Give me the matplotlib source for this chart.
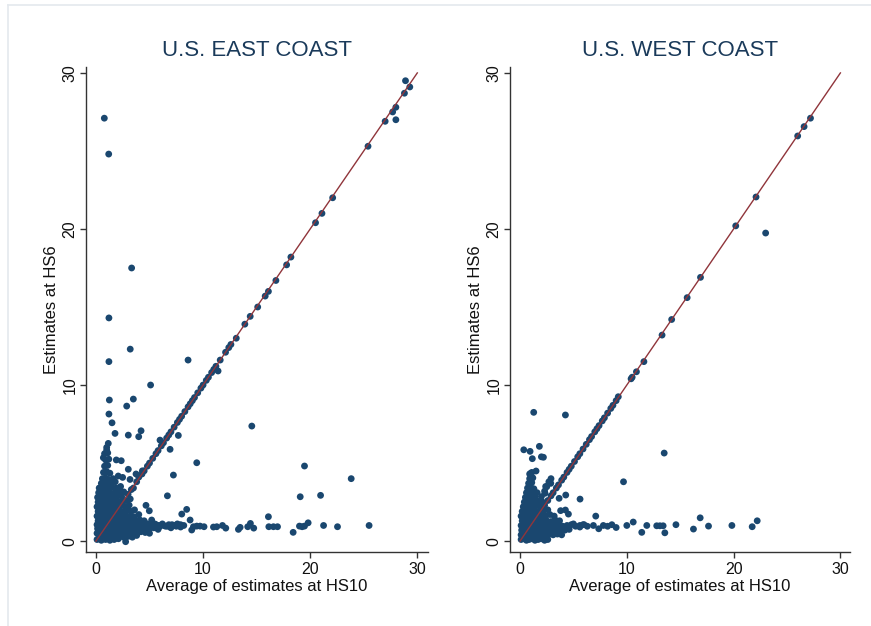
import matplotlib
matplotlib.use("Agg")
import matplotlib.pyplot as plt
from matplotlib.lines import Line2D

plt.rcParams['font.family'] = ['Liberation Sans', 'DejaVu Sans']

NAVY = '#1a476f'
MAROON = '#90353b'

titles = ['U.S. EAST COAST', 'U.S. WEST COAST']
xlabel = 'Average of estimates at HS10'
ylabel = 'Estimates at HS6'
ticks = [0, 10, 20, 30]

# East coast: points sitting on the 45 degree line
east_diag = [(3.0, 3.0), (3.3, 3.3), (3.5, 3.4), (3.8, 3.8), (4.0, 4.1), (4.3, 4.3), (4.5, 4.5),
             (4.8, 4.8), (5.0, 5.0), (5.3, 5.3), (5.6, 5.6), (5.8, 5.8), (6.1, 6.1), (6.3, 6.3),
             (6.6, 6.6), (6.8, 6.8), (7.0, 7.0), (7.3, 7.3), (7.6, 7.6), (7.8, 7.8), (8.0, 8.0),
             (8.3, 8.3), (8.6, 8.6), (8.8, 8.8), (9.0, 9.0), (9.2, 9.2), (9.5, 9.5), (9.8, 9.8),
             (10.0, 10.0), (10.3, 10.3), (10.5, 10.5), (10.8, 10.8), (11.0, 11.0), (11.2, 11.2),
             (11.6, 11.6), (12.1, 12.1), (12.4, 12.4), (12.6, 12.6), (13.1, 13.0), (13.9, 13.9),
             (14.4, 14.4), (15.1, 15.0), (15.8, 15.7), (16.1, 16.0), (16.8, 16.7), (17.8, 17.7),
             (18.2, 18.2), (20.5, 20.4), (21.1, 21.0), (22.1, 22.0), (25.4, 25.3), (27.0, 26.9),
             (27.7, 27.5), (28.0, 27.8), (28.8, 28.7), (29.3, 29.1)]

# East coast: scattered points away from the line
east_off = [(0.78, 27.1), (1.19, 24.8), (3.33, 17.5), (1.21, 14.3), (3.2, 12.3), (1.21, 11.5),
            (8.6, 11.6), (5.1, 10.0), (1.25, 9.04), (3.49, 9.1), (2.87, 8.65), (1.21, 8.14),
            (1.5, 7.58), (1.78, 6.9), (3.02, 6.79), (4.21, 7.07), (3.99, 6.69), (5.98, 6.47),
            (7.69, 6.77), (6.92, 5.88), (14.55, 7.37), (9.41, 5.02), (7.23, 4.23), (6.67, 2.9),
            (1.15, 6.26), (1.0, 5.83), (0.69, 5.34), (1.9, 5.2), (2.36, 5.15), (3.02, 4.6),
            (4.33, 4.5), (3.74, 4.3), (2.08, 4.17), (2.49, 4.08), (3.18, 3.95), (4.67, 2.29),
            (4.98, 1.94), (8.47, 2.03), (8.01, 1.73), (16.1, 1.56), (3.8, 0.36), (2.77, -0.04),
            (19.47, 4.81), (23.83, 4.0), (19.07, 2.84), (20.97, 2.93), (18.41, 0.56),
            (28.0, 27.0), (28.9, 29.5), (11.4, 10.9)]

# East coast: horizontal band near 1
east_band = [(5.2, 1.35), (5.67, 1.03), (5.9, 0.9), (6.2, 1.1), (6.5, 0.95), (6.8, 1.05), (7.0, 0.85),
             (7.3, 1.0), (7.6, 1.1), (7.9, 0.9), (8.2, 1.0), (8.79, 1.35), (8.94, 0.71), (9.1, 0.92),
             (9.41, 0.96), (9.72, 0.96), (10.09, 0.92), (10.97, 0.9), (11.28, 0.92), (11.81, 1.0),
             (12.12, 0.83), (13.3, 0.75), (13.46, 0.88), (14.17, 0.92), (14.42, 1.13), (14.73, 0.83),
             (16.14, 0.92), (16.57, 0.92), (16.95, 0.92), (19.0, 0.96), (19.25, 0.92), (19.47, 0.96),
             (19.81, 1.17), (21.25, 1.0), (22.55, 0.92), (25.5, 1.0)]

# East coast: dense cloud near the origin
east_cluster = [
    (0.1, 0.1), (0.3, 0.2), (0.5, 0.05), (0.7, 0.25), (0.9, 0.1), (1.1, 0.2), (1.3, 0.05), (1.5, 0.25),
    (1.7, 0.1), (1.9, 0.2), (2.1, 0.15), (2.4, 0.3), (2.7, 0.2), (3.0, 0.3), (3.4, 0.25),
    (0.1, 0.5), (0.35, 0.55), (0.6, 0.45), (0.85, 0.5), (1.1, 0.55), (1.35, 0.45), (1.6, 0.5),
    (1.85, 0.55), (2.1, 0.45), (2.35, 0.5), (2.6, 0.55), (2.9, 0.45), (3.2, 0.5), (3.5, 0.6),
    (3.8, 0.5), (4.2, 0.6), (4.6, 0.55), (5.0, 0.5),
    (0.15, 0.8), (0.4, 0.85), (0.65, 0.75), (0.9, 0.8), (1.15, 0.85), (1.4, 0.75), (1.65, 0.8),
    (1.9, 0.85), (2.2, 0.75), (2.5, 0.8), (2.8, 0.85), (3.1, 0.75), (3.4, 0.8), (3.7, 0.85),
    (4.0, 0.75), (4.3, 0.8), (4.6, 0.9), (5.0, 0.8), (5.4, 0.85), (5.8, 0.75),
    (0.1, 1.05), (0.35, 1.1), (0.6, 1.0), (0.85, 1.05), (1.1, 1.1), (1.35, 1.0), (1.6, 1.05),
    (1.9, 1.1), (2.2, 1.0), (2.5, 1.05), (2.8, 1.1), (3.1, 1.0), (3.4, 1.05), (3.7, 1.1),
    (4.0, 1.0), (4.4, 1.05), (4.8, 1.1), (5.1, 1.0), (5.5, 1.1), (5.9, 1.0), (6.3, 1.0),
    (6.7, 0.95), (7.1, 1.05), (7.5, 0.95), (7.9, 1.05),
    (0.2, 1.3), (0.45, 1.35), (0.7, 1.25), (0.95, 1.3), (1.2, 1.35), (1.45, 1.25), (1.7, 1.3),
    (2.0, 1.35), (2.3, 1.25), (2.6, 1.3), (2.9, 1.35), (3.3, 1.3), (3.7, 1.25), (4.1, 1.35),
    (4.5, 1.3),
    (0.1, 1.6), (0.35, 1.65), (0.6, 1.55), (0.85, 1.6), (1.1, 1.65), (1.35, 1.55), (1.6, 1.6),
    (1.9, 1.65), (2.2, 1.55), (2.5, 1.6), (2.8, 1.65), (3.2, 1.6), (3.6, 1.55), (4.0, 1.7),
    (0.2, 1.9), (0.45, 1.95), (0.7, 1.85), (0.95, 1.9), (1.2, 1.95), (1.45, 1.85), (1.7, 1.9),
    (2.0, 1.95), (2.3, 1.85), (2.6, 1.9), (3.0, 2.0), (3.3, 1.9), (3.6, 2.0),
    (0.1, 2.2), (0.35, 2.25), (0.6, 2.15), (0.85, 2.2), (1.1, 2.25), (1.35, 2.15), (1.6, 2.2),
    (1.9, 2.25), (2.2, 2.15), (2.5, 2.3), (2.8, 2.2), (3.1, 2.3),
    (0.2, 2.5), (0.45, 2.55), (0.7, 2.45), (0.95, 2.5), (1.2, 2.55), (1.45, 2.45), (1.7, 2.5),
    (2.0, 2.55), (2.4, 2.5), (2.8, 2.6), (3.2, 2.7),
    (0.15, 2.8), (0.4, 2.85), (0.65, 2.75), (0.9, 2.8), (1.15, 2.85), (1.4, 2.75), (1.7, 2.8),
    (2.0, 2.9), (2.4, 2.85),
    (0.25, 3.1), (0.5, 3.15), (0.75, 3.05), (1.0, 3.1), (1.25, 3.15), (1.5, 3.05), (1.8, 3.1),
    (2.2, 3.2), (2.6, 3.15),
    (0.3, 3.4), (0.6, 3.45), (0.9, 3.35), (1.2, 3.4), (1.5, 3.45), (1.9, 3.4), (2.3, 3.5),
    (0.5, 3.7), (0.8, 3.75), (1.1, 3.65), (1.4, 3.7), (1.8, 3.8),
    (0.6, 4.0), (0.9, 4.05), (1.2, 3.95), (1.6, 4.0),
    (0.7, 4.4), (1.0, 4.45), (1.3, 4.35),
    (0.8, 4.8), (1.1, 4.85), (0.9, 5.2), (1.2, 5.25), (0.8, 5.6), (1.1, 5.65), (1.0, 6.0)]

# West coast
west_diag = [(2.3, 2.3), (2.6, 2.6), (2.9, 2.9), (3.1, 3.1), (3.4, 3.4), (3.6, 3.6), (3.9, 3.9),
             (4.1, 4.1), (4.4, 4.4), (4.6, 4.6), (4.8, 4.8), (5.1, 5.1), (5.4, 5.4), (5.6, 5.6),
             (5.9, 5.9), (6.2, 6.2), (6.5, 6.5), (6.7, 6.7), (7.0, 7.0), (7.2, 7.2), (7.4, 7.4),
             (7.7, 7.7), (7.9, 7.9), (8.2, 8.2), (8.5, 8.5), (8.7, 8.7), (9.0, 9.0), (9.2, 9.25),
             (10.4, 10.4), (10.5, 10.5), (10.9, 10.85), (11.6, 11.5), (13.3, 13.2), (14.2, 14.2),
             (15.65, 15.6), (16.9, 16.9), (20.2, 20.2), (22.1, 22.05), (26.0, 25.96),
             (26.6, 26.56), (27.2, 27.1)]

west_off = [(1.28, 8.25), (4.25, 8.08), (0.35, 5.85), (0.94, 5.75), (1.81, 6.07), (1.15, 5.28),
            (2.19, 5.37), (2.0, 5.4), (13.5, 5.64), (9.69, 3.8), (1.0, 4.34), (1.5, 4.49),
            (2.88, 3.7), (4.28, 2.95), (5.62, 2.69), (3.66, 2.74), (4.25, 1.99), (3.8, 1.95),
            (4.53, 1.73), (7.09, 1.6), (11.4, 0.56), (13.56, 0.53), (16.24, 0.77), (16.87, 1.49),
            (17.65, 0.96), (19.84, 1.0), (21.74, 0.92), (22.21, 1.3), (23.0, 19.74),
            (2.5, 3.48), (2.34, 3.06)]

west_band = [(5.0, 1.1), (5.6, 0.9), (5.9, 1.05), (6.3, 0.95), (6.87, 1.0), (7.37, 0.79), (7.8, 1.0),
             (8.2, 0.95), (8.6, 1.05), (9.0, 0.87), (10.0, 1.0), (10.6, 1.22), (11.87, 1.0),
             (12.8, 0.98), (13.1, 0.98), (13.4, 0.98), (14.6, 1.05)]

west_cluster = [
    (0.1, 0.1), (0.35, 0.15), (0.6, 0.05), (0.85, 0.1), (1.1, 0.15), (1.4, 0.05), (1.7, 0.1),
    (2.0, 0.15), (2.3, 0.05), (2.6, 0.1),
    (0.1, 0.4), (0.35, 0.45), (0.6, 0.35), (0.85, 0.4), (1.1, 0.45), (1.35, 0.35), (1.6, 0.4),
    (1.9, 0.45), (2.2, 0.35), (2.5, 0.4), (2.8, 0.45), (3.1, 0.4), (3.5, 0.45), (3.9, 0.4),
    (0.15, 0.7), (0.4, 0.75), (0.65, 0.65), (0.9, 0.7), (1.15, 0.75), (1.4, 0.65), (1.65, 0.7),
    (1.9, 0.75), (2.2, 0.65), (2.5, 0.7), (2.8, 0.75), (3.1, 0.65), (3.4, 0.7), (3.8, 0.75),
    (4.2, 0.7), (4.6, 0.75),
    (0.1, 1.0), (0.35, 1.05), (0.6, 0.95), (0.85, 1.0), (1.1, 1.05), (1.35, 0.95), (1.6, 1.0),
    (1.9, 1.05), (2.2, 0.95), (2.5, 1.0), (2.8, 1.05), (3.1, 0.95), (3.4, 1.0), (3.7, 1.05),
    (4.0, 0.95), (4.4, 1.0), (4.8, 1.05), (5.2, 0.95), (5.6, 1.0), (6.0, 1.05),
    (0.2, 1.3), (0.45, 1.35), (0.7, 1.25), (0.95, 1.3), (1.2, 1.35), (1.5, 1.25), (1.8, 1.3),
    (2.1, 1.35), (2.5, 1.3), (2.9, 1.25), (3.3, 1.35), (3.7, 1.3),
    (0.1, 1.6), (0.35, 1.65), (0.6, 1.55), (0.85, 1.6), (1.1, 1.65), (1.4, 1.55), (1.7, 1.6),
    (2.0, 1.65), (2.4, 1.6), (2.8, 1.7), (3.2, 1.6),
    (0.2, 1.9), (0.45, 1.95), (0.7, 1.85), (0.95, 1.9), (1.2, 1.95), (1.5, 1.85), (1.8, 1.9),
    (2.2, 1.95), (2.6, 2.0),
    (0.3, 2.2), (0.6, 2.25), (0.9, 2.15), (1.2, 2.2), (1.5, 2.25), (1.9, 2.2),
    (0.4, 2.5), (0.7, 2.55), (1.0, 2.45), (1.3, 2.5), (1.7, 2.55), (2.1, 2.5),
    (0.5, 2.8), (0.8, 2.85), (1.1, 2.75), (1.4, 2.8), (2.0, 2.85),
    (0.6, 3.1), (0.9, 3.15), (1.2, 3.05), (1.6, 3.1), (2.3, 3.2),
    (0.7, 3.4), (1.0, 3.45), (1.3, 3.35), (2.4, 3.5),
    (0.8, 3.7), (1.1, 3.75), (2.7, 3.8), (0.9, 4.0), (1.2, 4.05), (2.9, 4.0), (0.9, 4.3), (1.1, 4.4)]

east_sets = [east_cluster, east_band, east_off, east_diag]
west_sets = [west_cluster, west_band, west_off, west_diag]

fig = plt.figure(figsize=(8.71, 6.26), dpi=100)
fig.patch.set_facecolor('white')

# faint outer frame (graph region)
fig.add_artist(Line2D([8 / 871, 8 / 871], [0, 1 - 5 / 626], transform=fig.transFigure,
                      color='#e4e9ee', lw=1.2))
fig.add_artist(Line2D([8 / 871, 1], [1 - 5 / 626, 1 - 5 / 626], transform=fig.transFigure,
                      color='#e4e9ee', lw=1.2))

ax1 = fig.add_axes([86 / 871, 74 / 626, 342 / 871, 485 / 626])
ax2 = fig.add_axes([510 / 871, 74 / 626, 340 / 871, 485 / 626])

for ax, sets, title, xlim in [(ax1, east_sets, titles[0], (-0.93, 31.0)),
                              (ax2, west_sets, titles[1], (-0.94, 30.9))]:
    for pts in sets:
        xs = [p[0] for p in pts]
        ys = [p[1] for p in pts]
        ax.scatter(xs, ys, s=24, color=NAVY, edgecolors='none', zorder=2)
    ax.plot([0, 30], [0, 30], color=MAROON, lw=1.0, zorder=3)

    ax.set_xlim(*xlim)
    ax.set_ylim(-0.7, 30.38)
    ax.set_xticks(ticks)
    ax.set_yticks(ticks)
    ax.spines['top'].set_visible(False)
    ax.spines['right'].set_visible(False)
    for s in ['left', 'bottom']:
        ax.spines[s].set_color('#333333')
        ax.spines[s].set_linewidth(1.0)
    ax.tick_params(axis='both', direction='out', length=4, width=1, color='#333333',
                   labelsize=11.5, labelcolor='#111111', pad=3)
    ax.tick_params(axis='y', labelrotation=90, pad=2)
    for lab in ax.get_yticklabels():
        lab.set_va('center')
    ax.set_xlabel(xlabel, fontsize=12, color='#111111', labelpad=2)
    ax.set_ylabel(ylabel, fontsize=12, color='#111111', labelpad=3)
    ax.set_title(title, fontsize=16, color='#1a3a5a', pad=8)

fig.savefig('out.png', dpi=100, facecolor='white')
